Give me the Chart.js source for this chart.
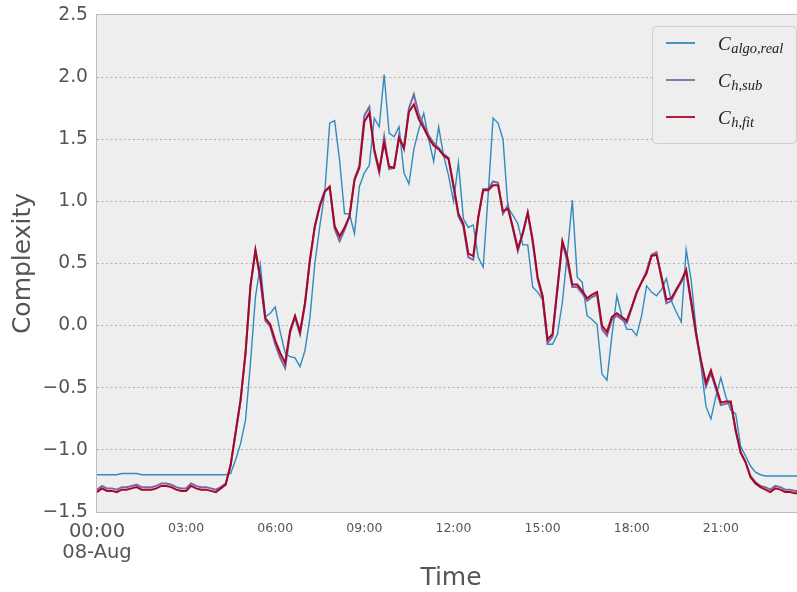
<!DOCTYPE html>
<html>
<head>
<meta charset="utf-8">
<script src="https://cdn.jsdelivr.net/npm/chart.js@4.4.1/dist/chart.umd.min.js"></script>
<style>
html, body { margin: 0; padding: 0; overflow: hidden; background: #fff; }
canvas { display: block; }
</style>
</head>
<body>
<canvas id="grafico" width="812" height="592"></canvas>
<script>
// 10-minute samples over one day (08-Aug)
let minutos = Array.from({length: 144}, (_, i) => i * 10);

let cAlgoReal = [
  -1.20,-1.20,-1.20,-1.20,-1.20,-1.19,-1.19,-1.19,-1.19,-1.20,
  -1.20,-1.20,-1.20,-1.20,-1.20,-1.20,-1.20,-1.20,-1.20,-1.20,
  -1.20,-1.20,-1.20,-1.20,-1.20,-1.20,-1.20,-1.19,-1.08,-0.95,
  -0.76,-0.30,0.23,0.49,0.07,0.10,0.15,-0.05,-0.22,-0.25,
  -0.26,-0.33,-0.20,0.06,0.50,0.80,1.07,1.63,1.65,1.33,
  0.90,0.90,0.74,1.12,1.23,1.29,1.67,1.60,2.02,1.55,
  1.52,1.60,1.23,1.14,1.42,1.58,1.71,1.50,1.32,1.60,
  1.37,1.21,1.00,1.31,0.86,0.79,0.81,0.55,0.47,1.05,
  1.67,1.63,1.50,0.95,0.89,0.82,0.65,0.65,0.31,0.27,
  0.21,-0.15,-0.15,-0.07,0.19,0.58,1.01,0.39,0.35,0.08,
  0.05,0.01,-0.39,-0.44,-0.08,0.24,0.08,-0.03,-0.03,-0.08,
  0.08,0.32,0.27,0.24,0.29,0.38,0.20,0.11,0.03,0.61,
  0.37,-0.03,-0.33,-0.65,-0.75,-0.57,-0.42,-0.57,-0.68,-0.71,
  -0.97,-1.05,-1.13,-1.18,-1.20,-1.21,-1.21,-1.21,-1.21,-1.21,
  -1.21,-1.21,-1.21,-1.21
];

let cHSub = [
  -1.32,-1.29,-1.31,-1.31,-1.32,-1.30,-1.30,-1.29,-1.28,-1.30,
  -1.30,-1.30,-1.29,-1.27,-1.27,-1.28,-1.30,-1.31,-1.31,-1.27,
  -1.29,-1.30,-1.30,-1.31,-1.32,-1.30,-1.27,-1.12,-0.86,-0.60,
  -0.22,0.32,0.60,0.37,0.04,-0.01,-0.15,-0.26,-0.34,-0.06,
  0.07,-0.07,0.17,0.52,0.80,0.97,1.08,1.11,0.78,0.68,
  0.77,0.88,1.18,1.29,1.69,1.76,1.40,1.23,1.52,1.26,
  1.27,1.53,1.42,1.75,1.86,1.70,1.61,1.53,1.47,1.43,
  1.38,1.35,1.12,0.88,0.80,0.55,0.53,0.87,1.10,1.10,
  1.16,1.15,0.90,0.97,0.78,0.60,0.75,0.91,0.67,0.37,
  0.22,-0.14,-0.09,0.30,0.67,0.51,0.31,0.31,0.26,0.20,
  0.23,0.25,-0.03,-0.08,0.05,0.08,0.05,0.02,0.14,0.26,
  0.35,0.44,0.57,0.59,0.38,0.18,0.20,0.28,0.35,0.43,
  0.18,-0.08,-0.30,-0.49,-0.38,-0.51,-0.64,-0.63,-0.62,-0.85,
  -1.02,-1.10,-1.21,-1.26,-1.29,-1.30,-1.32,-1.29,-1.30,-1.32,
  -1.32,-1.33,-1.33,-1.33
];

let cHFit = [
  -1.34,-1.31,-1.33,-1.33,-1.34,-1.32,-1.32,-1.31,-1.30,-1.32,
  -1.32,-1.32,-1.31,-1.29,-1.29,-1.30,-1.32,-1.33,-1.33,-1.29,
  -1.31,-1.32,-1.32,-1.33,-1.34,-1.31,-1.28,-1.12,-0.86,-0.60,
  -0.22,0.32,0.61,0.38,0.06,0.01,-0.12,-0.22,-0.30,-0.04,
  0.08,-0.05,0.18,0.53,0.80,0.96,1.08,1.12,0.80,0.72,
  0.79,0.88,1.17,1.27,1.64,1.71,1.42,1.25,1.47,1.28,
  1.27,1.51,1.43,1.72,1.78,1.66,1.59,1.51,1.45,1.42,
  1.37,1.34,1.13,0.90,0.82,0.58,0.56,0.87,1.09,1.09,
  1.13,1.13,0.92,0.94,0.79,0.62,0.74,0.91,0.69,0.39,
  0.24,-0.11,-0.07,0.30,0.68,0.55,0.33,0.33,0.28,0.22,
  0.25,0.27,0.00,-0.05,0.07,0.10,0.07,0.04,0.15,0.27,
  0.35,0.42,0.56,0.57,0.40,0.21,0.22,0.29,0.36,0.45,
  0.20,-0.06,-0.28,-0.46,-0.36,-0.49,-0.62,-0.61,-0.61,-0.84,
  -1.02,-1.10,-1.22,-1.27,-1.30,-1.32,-1.34,-1.31,-1.32,-1.34,
  -1.34,-1.35,-1.35,-1.35
];

let xTickMinutos = [0, 180, 360, 540, 720, 900, 1080, 1260];
let xTickLabels = [['00:00', '08-Aug'], '03:00', '06:00', '09:00', '12:00', '15:00', '18:00', '21:00'];
let subindices = ['algo,real', 'h,sub', 'h,fit'];
let colores = ['#348ABD', '#7A68A6', '#A60628'];

function puntos(valores) {
  return valores.map((v, i) => ({x: minutos[i], y: v}));
}

function sinMargen(s) {
  s.paddingTop = 0;
  s.paddingBottom = 0;
  s.paddingLeft = 0;
  s.paddingRight = 0;
}

// plot background, frame and the boxed legend inside the plot
let fondo = {
  id: 'fondo',
  beforeDraw(chart) {
    let {ctx, chartArea: a} = chart;
    ctx.save();
    ctx.fillStyle = '#eeeeee';
    ctx.fillRect(a.left, a.top, a.right - a.left, a.bottom - a.top);
    ctx.restore();
  },
  beforeDatasetsDraw(chart) {
    let {ctx, chartArea: a} = chart;
    ctx.save();
    ctx.strokeStyle = '#bcbcbc';
    ctx.lineWidth = 1;
    ctx.strokeRect(a.left - 0.5, a.top - 0.5, a.right - a.left + 1, a.bottom - a.top + 1);
    ctx.restore();
  },
  afterDraw(chart) {
    let ctx = chart.ctx;
    ctx.save();
    ctx.beginPath();
    ctx.roundRect(652.5, 26.5, 144, 117, 4);
    ctx.fillStyle = '#eeeeee';
    ctx.fill();
    ctx.strokeStyle = '#cfcfcf';
    ctx.lineWidth = 1;
    ctx.stroke();
    let filas = [43, 80, 117];
    subindices.forEach((s, i) => {
      let y = filas[i];
      ctx.strokeStyle = colores[i];
      ctx.lineWidth = 1.8;
      ctx.beginPath();
      ctx.moveTo(666, y);
      ctx.lineTo(695, y);
      ctx.stroke();
      ctx.fillStyle = '#222222';
      ctx.textBaseline = 'alphabetic';
      ctx.font = 'italic 19px "Liberation Serif"';
      ctx.fillText('C', 718, y + 7);
      let w = ctx.measureText('C').width;
      ctx.font = 'italic 14.5px "Liberation Serif"';
      ctx.fillText(s, 718 + w + 0.5, y + 10);
    });
    ctx.restore();
  }
};

let chart = new Chart(document.getElementById('grafico').getContext('2d'), {
  type: 'line',
  data: {
    datasets: [
      {label: 'C_algo,real', data: puntos(cAlgoReal), borderColor: colores[0], borderWidth: 1.4, order: 2},
      {label: 'C_h,sub', data: puntos(cHSub), borderColor: colores[1], borderWidth: 2, order: 1},
      {label: 'C_h,fit', data: puntos(cHFit), borderColor: colores[2], borderWidth: 2, order: 0}
    ]
  },
  options: {
    responsive: false,
    animation: false,
    events: [],
    elements: {point: {radius: 0}, line: {tension: 0}},
    layout: {padding: {top: 15, right: 7, left: 0, bottom: 0}},
    plugins: {legend: {display: false}, tooltip: {enabled: false}},
    scales: {
      x: {
        type: 'linear',
        min: 0,
        max: 1430,
        afterBuildTicks: (s) => { s.ticks = xTickMinutos.map(v => ({value: v})); },
        afterFit: (s) => { s.height = 80; sinMargen(s); },
        grid: {display: false},
        border: {display: false},
        ticks: {
          autoSkip: false,
          maxRotation: 0,
          padding: 1,
          color: '#555555',
          font: (c) => c.index === 0 ? {family: 'DejaVu Sans', size: 19.5, lineHeight: 1.1} : {family: 'DejaVu Sans', size: 12.5},
          callback: (v) => xTickLabels[xTickMinutos.indexOf(v)]
        },
        title: {
          display: true,
          text: 'Time',
          color: '#555555',
          font: {family: 'DejaVu Sans', size: 25, lineHeight: 1.0},
          padding: {top: 0, bottom: 1.5}
        }
      },
      y: {
        min: -1.5,
        max: 2.5,
        afterFit: (s) => { s.width = 97; sinMargen(s); },
        border: {display: false, dash: [2, 2.5]},
        grid: {
          color: (c) => (c.tick.value <= -1.5 || c.tick.value >= 2.5) ? 'rgba(0,0,0,0)' : '#b2b2b2',
          drawTicks: false,
          lineWidth: 1
        },
        ticks: {
          stepSize: 0.5,
          padding: 9,
          color: '#555555',
          font: {family: 'DejaVu Sans', size: 18.7},
          callback: (v) => v.toFixed(1).replace('-', '\u2212')
        },
        title: {
          display: true,
          text: 'Complexity',
          color: '#555555',
          font: {family: 'DejaVu Sans', size: 25},
          padding: {top: 8, bottom: 0}
        }
      }
    }
  },
  plugins: [fondo]
});
</script>
</body>
</html>
